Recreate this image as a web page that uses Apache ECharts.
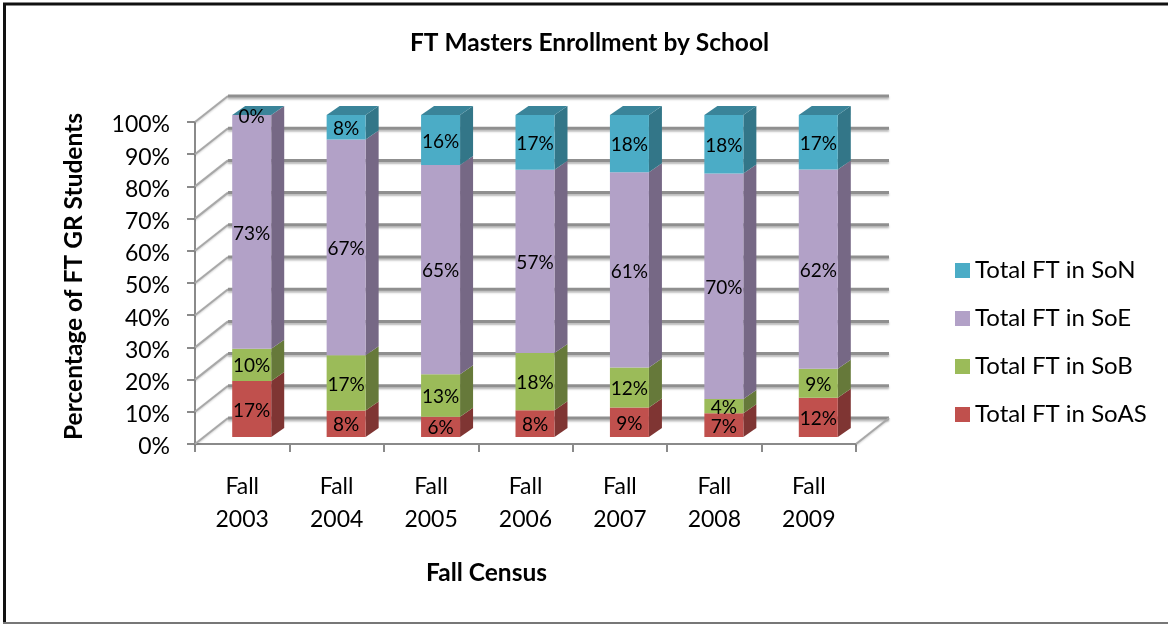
<!DOCTYPE html>
<html><head><meta charset="utf-8">
<style>html,body{margin:0;padding:0;background:#fff}#c{width:1168px;height:624px}</style>
<script src="https://cdn.jsdelivr.net/npm/echarts@6/dist/echarts.min.js"></script>
</head><body><div id="c"></div>
<script>
const categories = ['Fall\n2003','Fall\n2004','Fall\n2005','Fall\n2006','Fall\n2007','Fall\n2008','Fall\n2009'];
const soAS = [17.4, 8.2, 6.3, 8.3, 9.2, 7.4, 12.2];
const soB  = [10.0, 17.2, 13.2, 17.8, 12.4, 4.4, 9.0];
const soE  = [72.6, 67.0, 65.0, 56.9, 60.6, 70.0, 61.9];
const soN  = [0.0, 7.6, 15.5, 17.0, 17.8, 18.2, 16.9];
const yTicks = [0,10,20,30,40,50,60,70,80,90,100];

const FONT = 'Lato, Carlito, sans-serif';
const chart = echarts.init(document.getElementById('c'));

const WALL = [33,-26];      // depth of the floor / side wall
const BAR_OFF = [9.5,-7];   // front face of the bars inside the depth
const BAR_D = [13,-9];      // depth of a bar
const BAR_W = 0.413;

const GRID = {color:'#8f8f8f', shadowColor:'rgba(0,0,0,0.28)', shadowBlur:2, shadowOffsetY:2};

function poly(points, fill){ return {type:'polygon', shape:{points}, style:{fill}, silent:true}; }

function stackSeries(name, values, bases, front, side, top, cap){
  return {
    name, type:'custom', coordinateSystem:'cartesian2d', z:5,
    itemStyle:{color:front},
    encode:{x:0,y:[1,2]},
    data: values.map((v,i)=>[i,bases[i],bases[i]+v,v]),
    renderItem(params, api){
      const c = api.coord([api.value(0),api.value(1)]);
      const e = api.coord([api.value(0),api.value(2)]);
      const w = api.size([1,0])[0]*BAR_W;
      const xl = c[0]-w/2+BAR_OFF[0], xr = xl+w;
      const yb = c[1]+BAR_OFF[1], yt = e[1]+BAR_OFF[1];
      const kids = [];
      kids.push(poly([[xr,yb],[xr+BAR_D[0],yb+BAR_D[1]],[xr+BAR_D[0],yt+BAR_D[1]],[xr,yt]],side));
      if(yb-yt>0.01) kids.push(poly([[xl,yb],[xr,yb],[xr,yt],[xl,yt]],front));
      if(cap) kids.push(poly([[xl,yt],[xr,yt],[xr+BAR_D[0],yt+BAR_D[1]],[xl+BAR_D[0],yt+BAR_D[1]]],top));
      kids.push({type:'text', z2:50, silent:true, style:{
        x:(xl+xr)/2, y:(yt+yb)/2+1.5, text:Math.round(api.value(3))+'%',
        font:'19px '+FONT, fill:'#000', align:'center', verticalAlign:'middle'}});
      return {type:'group', children:kids};
    }
  };
}
const b0 = soAS.map(()=>0);
const b1 = soAS.map((v)=>v);
const b2 = soAS.map((v,i)=>v+soB[i]);
const b3 = soAS.map((v,i)=>v+soB[i]+soE[i]);

const wallSeries = {
  type:'custom', coordinateSystem:'cartesian2d', z:1, silent:true,
  encode:{y:0}, data:yTicks.map(v=>[v]),
  renderItem(params, api){
    const cs = params.coordSys;
    const y = api.coord([0,api.value(0)])[1];
    const xL = cs.x, xR = cs.x+cs.width;
    const kids = [
      {type:'line', shape:{x1:xL,y1:y,x2:xL+WALL[0],y2:y+WALL[1]},
        style:{stroke:'#a8a8a8',lineWidth:2,shadowColor:'rgba(0,0,0,0.2)',shadowBlur:2,shadowOffsetY:1}},
      {type:'line', shape:{x1:xL+WALL[0],y1:y+WALL[1],x2:xR+WALL[0],y2:y+WALL[1]},
        style:{stroke:GRID.color,lineWidth:3,shadowColor:GRID.shadowColor,shadowBlur:GRID.shadowBlur,shadowOffsetY:GRID.shadowOffsetY}}
    ];
    if(api.value(0)===0){
      kids.push({type:'line', shape:{x1:xR,y1:y,x2:xR+WALL[0],y2:y+WALL[1]},
        style:{stroke:'#a8a8a8',lineWidth:2,shadowColor:'rgba(0,0,0,0.2)',shadowBlur:2,shadowOffsetY:1}});
    }
    return {type:'group', children:kids};
  }
};

chart.setOption({
  animation:false,
  backgroundColor:'#fff',
  title:{text:'FT Masters Enrollment by School', left:584.5, top:26, textAlign:'center',
    textStyle:{fontFamily:FONT,fontWeight:'bold',fontSize:24.5,color:'#000'}},
  graphic:[
    {type:'line', shape:{x1:3,y1:4,x2:1168,y2:4}, style:{stroke:'#111',lineWidth:3}, silent:true, z:-1},
    {type:'line', shape:{x1:4.5,y1:3,x2:4.5,y2:624}, style:{stroke:'#111',lineWidth:3}, silent:true, z:-1},
    {type:'line', shape:{x1:3,y1:623,x2:1168,y2:623}, style:{stroke:'#777',lineWidth:2}, silent:true, z:-1}
  ],
  legend:{
    left:955, top:258.5, padding:0, orient:'vertical', itemWidth:15, itemHeight:15, itemGap:24,
    icon:'rect', selectedMode:false,
    data:['Total FT in SoN','Total FT in SoE','Total FT in SoB','Total FT in SoAS'],
    textStyle:{fontFamily:FONT,fontSize:24,lineHeight:24,color:'#000'}
  },
  grid:{left:195,right:312,top:122,bottom:180,containLabel:false},
  xAxis:{type:'category',data:categories,
    axisLine:{lineStyle:{color:'#8a8a8a',width:2}},
    axisTick:{show:true,length:8,alignWithLabel:false,lineStyle:{color:'#8a8a8a',width:2}},
    axisLabel:{margin:26,fontFamily:FONT,fontSize:23,lineHeight:33,color:'#000',interval:0},
    name:'Fall Census',nameLocation:'middle',nameGap:117,
    nameTextStyle:{fontFamily:FONT,fontWeight:'bold',fontSize:24.5,color:'#000',padding:[0,78,0,0]}},
  yAxis:{type:'value',min:0,max:100,interval:10,
    axisLine:{show:true,lineStyle:{color:'#8a8a8a',width:2}},
    axisTick:{show:true,length:8,lineStyle:{color:'#8a8a8a',width:2}},
    splitLine:{show:false},
    axisLabel:{margin:25,color:'#000',formatter:'{a|{value}%}',
      rich:{a:{fontFamily:FONT,fontSize:23,color:'#000',lineHeight:23,padding:[6,0,0,0]}}},
    name:'Percentage of FT GR Students',nameLocation:'middle',nameGap:108,nameRotate:90,
    nameTextStyle:{fontFamily:FONT,fontWeight:'bold',fontSize:24.5,color:'#000',padding:[0,0,0,13]}},
  series:[
    wallSeries,
    stackSeries('Total FT in SoAS',soAS,b0,'#C0504D','#7F3533','#7F3533',false),
    stackSeries('Total FT in SoB',soB,b1,'#9BBB59','#66793A','#66793A',false),
    stackSeries('Total FT in SoE',soE,b2,'#B2A1C7','#766885','#766885',false),
    stackSeries('Total FT in SoN',soN,b3,'#4BACC6','#337688','#3A8499',true)
  ]
});
</script></body></html>
